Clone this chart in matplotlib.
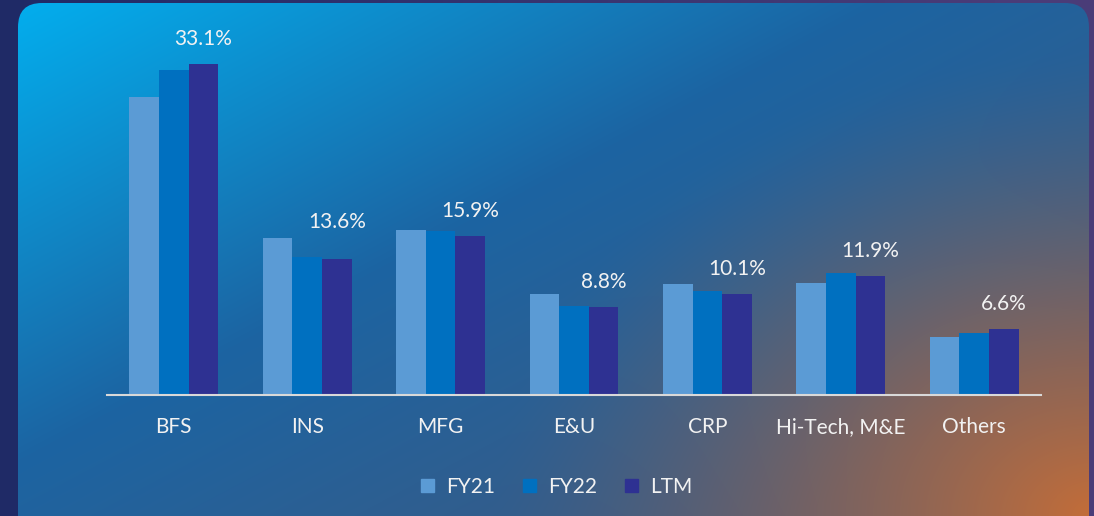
import numpy as np
import matplotlib
matplotlib.use("Agg")
import matplotlib.pyplot as plt
from matplotlib.patches import FancyBboxPatch, Patch

plt.rcParams['font.family'] = ['Lato', 'DejaVu Sans']

# data (share of revenue, %)
categories = ['BFS', 'INS', 'MFG', 'E&U', 'CRP', 'Hi-Tech, M&E', 'Others']
fy21 = [29.8, 15.7, 16.5, 10.1, 11.1, 11.2, 5.8]
fy22 = [32.5, 13.8, 16.4, 8.9, 10.4, 12.2, 6.2]
ltm = [33.1, 13.6, 15.9, 8.8, 10.1, 11.9, 6.6]
series_names = ['FY21', 'FY22', 'LTM']
colors = ['#5b9bd5', '#0070c0', '#2e3192']

W, H = 1094, 516
fig = plt.figure(figsize=(W / 100, H / 100), dpi=100)

# background: outer frame + rounded gradient panel
bg = fig.add_axes([0, 0, 1, 1])
bg.set_xlim(0, W)
bg.set_ylim(H, 0)
bg.axis('off')

yy, xx = np.mgrid[0:H, 0:W]
u = xx / W
v = yy / H


def mix(c1, c2, t):
    c1 = np.array(matplotlib.colors.to_rgb(c1))
    c2 = np.array(matplotlib.colors.to_rgb(c2))
    return c1 + (c2 - c1) * t[..., None]


# outer frame: navy on the left, purple towards the right
outer = mix('#1f2a66', '#4a3c78', np.clip(u * 1.1, 0, 1))
bg.imshow(outer, extent=(0, W, H, 0), aspect='auto', zorder=0)

# panel gradient
t = np.clip(0.62 * u + 0.55 * v, 0, 1)
c_a = mix('#02b0f0', '#1c64a2', np.clip(t / 0.5, 0, 1))
c_b = mix('#1c64a2', '#3d5a82', np.clip((t - 0.5) / 0.5, 0, 1))
panel = np.where((t < 0.5)[..., None], c_a, c_b)
d = np.sqrt(((1 - u) / 0.55) ** 2 + ((1 - v) / 0.9) ** 2)
w = np.clip(1 - d, 0, 1) ** 1.4
orange = np.array(matplotlib.colors.to_rgb('#c46d38'))
panel = panel * (1 - w[..., None]) + orange * w[..., None]

box = FancyBboxPatch((18, 3), 1071, 540, boxstyle='round,pad=0,rounding_size=24',
                     transform=bg.transData, facecolor='none', edgecolor='none')
bg.add_patch(box)
im = bg.imshow(panel, extent=(0, W, H, 0), aspect='auto', zorder=1)
im.set_clip_path(box)

# main chart
ax = fig.add_axes([107 / W, (H - 395) / H, 934 / W, 360 / H])
ax.patch.set_alpha(0)
x = np.arange(len(categories))
bw = 0.222
for i, (vals, name, c) in enumerate(zip([fy21, fy22, ltm], series_names, colors)):
    ax.bar(x + (i - 1) * bw, vals, bw, color=c, label=name, zorder=2)

# value labels above the LTM bars
for i, val in enumerate(ltm):
    off = 37 if categories[i] == 'INS' else 25
    ax.annotate(f'{val}%', (x[i] + bw, val), xytext=(0, off), textcoords='offset pixels',
                ha='center', va='center', color='#f2f2f2', fontsize=15)

ax.set_xlim(-0.5, len(categories) - 0.5)
ax.set_ylim(0, 36)
ax.set_xticks(x)
ax.set_xticklabels(categories, color='#f2f2f2', fontsize=15)
ax.tick_params(axis='x', length=0, pad=16)
ax.set_yticks([])
for s in ['top', 'left', 'right']:
    ax.spines[s].set_visible(False)
ax.spines['bottom'].set_color('#d9d9d9')
ax.spines['bottom'].set_linewidth(1.5)

handles = [Patch(color=c) for c in colors]
leg = fig.legend(handles, series_names, loc='center', bbox_to_anchor=(0.509, 1 - 487 / H),
                 ncol=3, frameon=False, fontsize=15, handlelength=0.6, handleheight=0.6,
                 handletextpad=0.6, columnspacing=1.35)
for txt in leg.get_texts():
    txt.set_color('#f2f2f2')

fig.savefig('out.png', dpi=100)
